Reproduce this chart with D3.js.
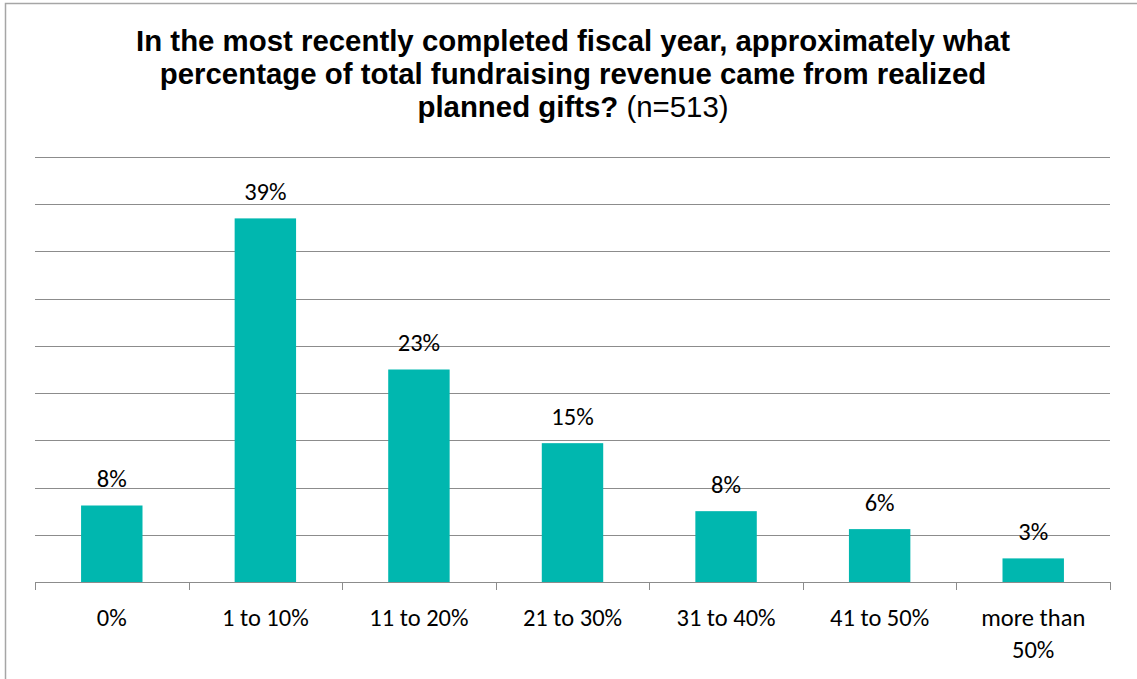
<!DOCTYPE html>
<html>
<head>
<meta charset="utf-8">
<script src="https://cdn.jsdelivr.net/npm/d3@7"></script>
<style>
  body { margin: 0; background: #fff; }
  svg { display: block; }
</style>
</head>
<body>
<div id="chart"></div>
<script>
(function() {

  // categories on the x axis (one inner array per text line)
  const categories = ['0%', '1 to 10%', '11 to 20%', '21 to 30%', '31 to 40%', '41 to 50%', 'more than 50%'];
  const categoryLines = [['0%'], ['1 to 10%'], ['11 to 20%'], ['21 to 30%'], ['31 to 40%'], ['41 to 50%'], ['more than', '50%']];
  const values = [8.1, 38.5, 22.5, 14.7, 7.5, 5.6, 2.5];
  const valueLabels = ['8%', '39%', '23%', '15%', '8%', '6%', '3%'];
  const yTicks = [0, 5, 10, 15, 20, 25, 30, 35, 40, 45];

  const width = 1137, height = 679;
  const plot = { left: 35, right: 1110, top: 157, bottom: 582 };
  const labelFont = 'Carlito, Lato, "Open Sans", sans-serif';

  const svg = d3.select('#chart').append('svg')
    .attr('width', width)
    .attr('height', height);

  // outer frame
  svg.append('rect')
    .attr('x', 5.5).attr('y', 3.5)
    .attr('width', width + 10).attr('height', height + 10)
    .attr('fill', 'none')
    .attr('stroke', '#a6a6a6')
    .attr('stroke-width', 1.5);

  // title
  const title = svg.append('text')
    .attr('text-anchor', 'middle')
    .attr('font-family', 'Liberation Sans, Arial, sans-serif')
    .attr('font-size', 29.4)
    .attr('fill', '#000');
  title.append('tspan').attr('x', 573).attr('y', 51).attr('font-weight', 'bold')
    .text('In the most recently completed fiscal year, approximately what');
  title.append('tspan').attr('x', 573).attr('y', 84).attr('font-weight', 'bold')
    .text('percentage of total fundraising revenue came from realized');
  const last = title.append('tspan').attr('x', 573).attr('y', 117);
  last.append('tspan').attr('font-weight', 'bold').text('planned gifts? ');
  last.append('tspan').text('(n=513)');

  const x = d3.scaleBand()
    .domain(categories)
    .range([plot.left, plot.right])
    .paddingInner(0.6)
    .paddingOuter(0.3);

  const y = d3.scaleLinear()
    .domain([0, 45])
    .range([plot.bottom, plot.top]);

  // gridlines
  svg.append('g')
    .selectAll('line')
    .data(yTicks.slice(1))
    .enter().append('line')
      .attr('x1', plot.left).attr('x2', plot.right)
      .attr('y1', d => Math.round(y(d)) + 0.5)
      .attr('y2', d => Math.round(y(d)) + 0.5)
      .attr('stroke', '#8c8c8c')
      .attr('stroke-width', 1);

  // bars
  svg.append('g')
    .selectAll('rect')
    .data(values)
    .enter().append('rect')
      .attr('x', (d, i) => x(categories[i]))
      .attr('y', d => y(d))
      .attr('width', x.bandwidth())
      .attr('height', d => plot.bottom - y(d))
      .attr('fill', '#00b7af');

  // value labels
  svg.append('g')
    .selectAll('text')
    .data(values)
    .enter().append('text')
      .attr('x', (d, i) => x(categories[i]) + x.bandwidth() / 2)
      .attr('y', d => y(d) - 18.5)
      .attr('text-anchor', 'middle')
      .attr('font-family', labelFont)
      .attr('font-size', 24.5)
      .attr('fill', '#000')
      .text((d, i) => valueLabels[i]);

  // x axis line and tick marks at category boundaries
  const step = x.step();
  const axis = svg.append('g').attr('stroke', '#8c8c8c');
  axis.append('line')
    .attr('x1', plot.left).attr('x2', plot.right)
    .attr('y1', plot.bottom + 0.5).attr('y2', plot.bottom + 0.5);
  axis.selectAll('.tick')
    .data(d3.range(categories.length + 1))
    .enter().append('line')
      .attr('class', 'tick')
      .attr('x1', i => Math.round(plot.left + i * step) + 0.5)
      .attr('x2', i => Math.round(plot.left + i * step) + 0.5)
      .attr('y1', plot.bottom)
      .attr('y2', plot.bottom + 8);

  // category labels
  const labels = svg.append('g')
    .selectAll('text')
    .data(categoryLines)
    .enter().append('text')
      .attr('text-anchor', 'middle')
      .attr('font-family', labelFont)
      .attr('font-size', 24.5)
      .attr('fill', '#000');
  labels.each(function(lines, i) {
    const cx = x(categories[i]) + x.bandwidth() / 2;
    d3.select(this).selectAll('tspan')
      .data(lines)
      .enter().append('tspan')
        .attr('x', cx)
        .attr('y', (d, j) => 626 + j * 32)
        .text(d => d);
  });
}());
</script>
</body>
</html>
